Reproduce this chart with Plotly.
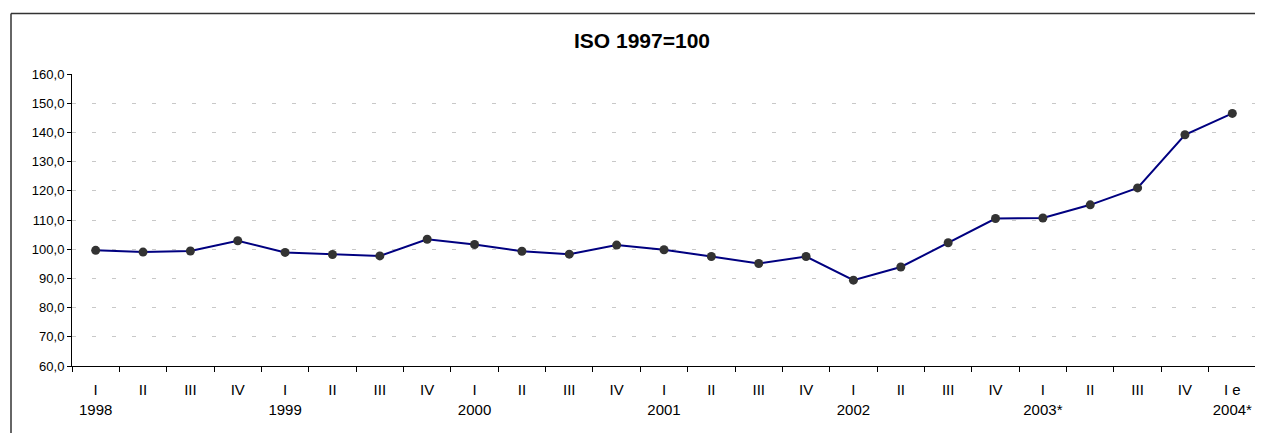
import plotly.graph_objects as go

quarters = ["I", "II", "III", "IV", "I", "II", "III", "IV", "I", "II", "III", "IV",
            "I", "II", "III", "IV", "I", "II", "III", "IV", "I", "II", "III", "IV", "I e"]
years = ["1998", "", "", "", "1999", "", "", "", "2000", "", "", "", "2001", "", "", "",
         "2002", "", "", "", "2003*", "", "", "", "2004*"]
values = [99.6, 99.0, 99.4, 102.9, 98.9, 98.2, 97.7, 103.4, 101.6, 99.3, 98.3, 101.4,
          99.8, 97.5, 95.1, 97.5, 89.4, 93.9, 102.2, 110.5, 110.7, 115.2, 121.0, 139.2, 146.5]
y_ticks = [60, 70, 80, 90, 100, 110, 120, 130, 140, 150, 160]
title = "ISO 1997=100"

x = list(range(len(values)))
ticktext = [q + ("<br>" + y if y else "") for q, y in zip(quarters, years)]
ytext = [f"{v:.1f}".replace(".", ",") for v in y_ticks]

# page body has an 8px margin, so the figure is laid out 8px in from the window edge
OFF = 8
W, H = 1263 - OFF, 433 - OFF
ml, mr, mt, mb = 72 - OFF, 7, 74 - OFF, 67
pw, ph = W - ml - mr, H - mt - mb

fig = go.Figure()
fig.add_trace(go.Scatter(
    x=x, y=values, mode="lines+markers",
    line=dict(color="#000080", width=2),
    marker=dict(color="#333333", size=9),
    hoverinfo="y", showlegend=False,
))

def px_x(p):
    return (p - OFF - ml) / pw

def px_y(p):
    return (H - mb - (p - OFF)) / ph

fig.update_layout(
    width=W, height=H,
    margin=dict(l=ml, r=mr, t=mt, b=mb),
    paper_bgcolor="white", plot_bgcolor="white",
    font=dict(family="Liberation Sans, Arial, sans-serif", color="black"),
    title=dict(text="<b>" + title + "</b>", x=(642 - OFF) / W, xref="container", xanchor="center",
               y=1 - (41 - OFF) / H, yref="container", yanchor="middle",
               font=dict(size=21, color="black")),
    xaxis=dict(
        range=[-0.5, len(values) - 0.5],
        tickmode="array", tickvals=x, ticktext=ticktext,
        ticks="outside", ticklen=10, tickcolor="rgba(0,0,0,0)",
        tickfont=dict(size=15),
        showline=True, linecolor="black", linewidth=1,
        showgrid=False, zeroline=False, fixedrange=True,
        minor=dict(tickmode="linear", tick0=-0.5, dtick=1, ticks="outside",
                   ticklen=5, tickcolor="black", tickwidth=1, showgrid=False),
    ),
    yaxis=dict(
        range=[60, 160],
        tickmode="array", tickvals=y_ticks, ticktext=ytext,
        ticks="outside", ticklen=4, tickcolor="black",
        tickfont=dict(size=13),
        showline=True, linecolor="black", linewidth=1,
        showgrid=True, gridcolor="#c8c8c8", gridwidth=1, griddash="4px,16px",
        zeroline=False, fixedrange=True,
    ),
    shapes=[
        dict(type="line", xref="paper", yref="paper",
             x0=px_x(11), x1=px_x(1263 + 10), y0=px_y(13.5), y1=px_y(13.5),
             line=dict(color="#333333", width=1.5)),
        dict(type="line", xref="paper", yref="paper",
             x0=px_x(11), x1=px_x(11), y0=px_y(13.5), y1=px_y(433 + 10),
             line=dict(color="#333333", width=1.5)),
    ],
)

fig.write_html("out.html")
